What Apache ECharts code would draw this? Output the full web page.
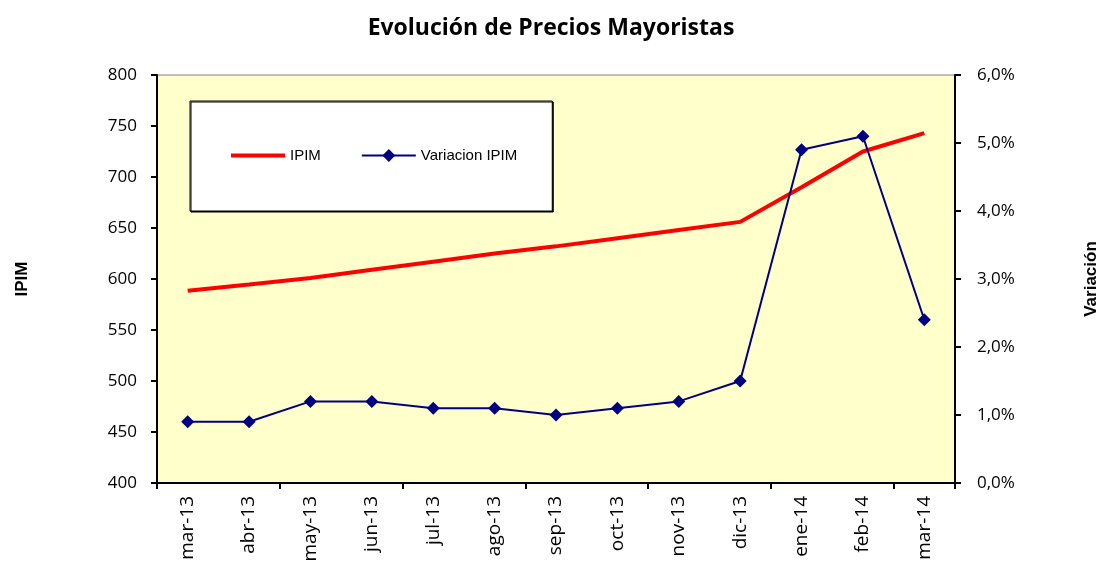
<!DOCTYPE html>
<html>
<head>
<meta charset="utf-8">
<script src="https://cdn.jsdelivr.net/npm/echarts@6/dist/echarts.min.js"></script>
<style>
  html, body { margin: 0; padding: 0; background: #fff; }
  #chart { width: 1102px; height: 570px; }
</style>
</head>
<body>
<div id="chart"></div>
<script>
// datos
const meses = ['mar-13', 'abr-13', 'may-13', 'jun-13', 'jul-13', 'ago-13', 'sep-13',
  'oct-13', 'nov-13', 'dic-13', 'ene-14', 'feb-14', 'mar-14'];
const ipim = [588.5, 594.5, 601, 609, 617, 625, 632, 640, 648, 656, 690, 725, 743];
const variacion = [0.9, 0.9, 1.2, 1.2, 1.1, 1.1, 1.0, 1.1, 1.2, 1.5, 4.9, 5.1, 2.4];

const fuente = '"Open Sans", Lato, sans-serif';
const arial = '"Liberation Sans", Arial, sans-serif';

let myChart = echarts.init(document.getElementById('chart'));

let option = {
  animation: false,
  title: {
    text: 'Evolución de Precios Mayoristas',
    left: 'center',
    top: 12,
    textStyle: { fontFamily: fuente, fontSize: 23, fontWeight: 'bold', color: '#000' }
  },
  legend: {
    left: 190,
    top: 101,
    orient: 'horizontal',
    backgroundColor: '#fff',
    borderColor: '#000',
    borderWidth: 1,
    shadowColor: '#000',
    shadowOffsetX: 1,
    shadowOffsetY: 1,
    shadowBlur: 0,
    padding: [47, 35, 48, 39],
    itemWidth: 54,
    itemHeight: 16,
    itemGap: 40,
    textStyle: { fontFamily: arial, fontSize: 15, color: '#000' },
    data: [
      { name: 'IPIM', lineStyle: { width: 4 }, itemStyle: { color: 'rgba(0,0,0,0)', borderWidth: 0 } },
      { name: 'Variacion IPIM', lineStyle: { width: 2 } }
    ]
  },
  grid: {
    left: 157,
    right: 147,
    top: 75,
    bottom: 87,
    outerBoundsMode: 'none',
    show: true,
    backgroundColor: '#FFFFCC',
    borderColor: '#808080',
    borderWidth: 1
  },
  xAxis: {
    type: 'category',
    boundaryGap: true,
    data: meses,
    axisLine: { show: true, lineStyle: { color: '#000', width: 2 } },
    axisTick: { show: true, interval: 1, length: 6, lineStyle: { color: '#000', width: 2 } },
    axisLabel: {
      interval: 0,
      rotate: 90,
      margin: 13,
      fontFamily: fuente,
      fontSize: 19,
      color: '#000'
    }
  },
  yAxis: [
    {
      type: 'value',
      name: 'IPIM',
      nameLocation: 'middle',
      nameRotate: 90,
      nameGap: 126,
      nameTextStyle: { fontFamily: arial, fontSize: 17, fontWeight: 'bold', color: '#000' },
      min: 400,
      max: 800,
      interval: 50,
      position: 'left',
      axisLine: { show: true, lineStyle: { color: '#000', width: 2 } },
      axisTick: { show: true, length: 6, lineStyle: { color: '#000', width: 2 } },
      splitLine: { show: false },
      axisLabel: { fontFamily: fuente, fontSize: 17, color: '#000', margin: 20 }
    },
    {
      type: 'value',
      name: 'Variación',
      nameLocation: 'middle',
      nameRotate: 90,
      nameGap: 128,
      nameTextStyle: { fontFamily: arial, fontSize: 17, fontWeight: 'bold', color: '#000' },
      min: 0,
      max: 6,
      interval: 1,
      position: 'right',
      axisLine: { show: true, lineStyle: { color: '#000', width: 2 } },
      axisTick: { show: true, length: 6, lineStyle: { color: '#000', width: 2 } },
      splitLine: { show: false },
      axisLabel: {
        fontFamily: fuente, fontSize: 17, color: '#000', margin: 22,
        formatter: (v) => v.toFixed(1).replace('.', ',') + '%'
      }
    }
  ],
  series: [
    {
      name: 'IPIM',
      type: 'line',
      yAxisIndex: 0,
      symbol: 'none',
      lineStyle: { color: '#FF0000', width: 4 },
      itemStyle: { color: '#FF0000' },
      data: ipim
    },
    {
      name: 'Variacion IPIM',
      type: 'line',
      yAxisIndex: 1,
      symbol: 'diamond',
      symbolSize: 13,
      lineStyle: { color: '#000080', width: 2 },
      itemStyle: { color: '#000080' },
      data: variacion
    }
  ]
};

myChart.setOption(option);
</script>
</body>
</html>
